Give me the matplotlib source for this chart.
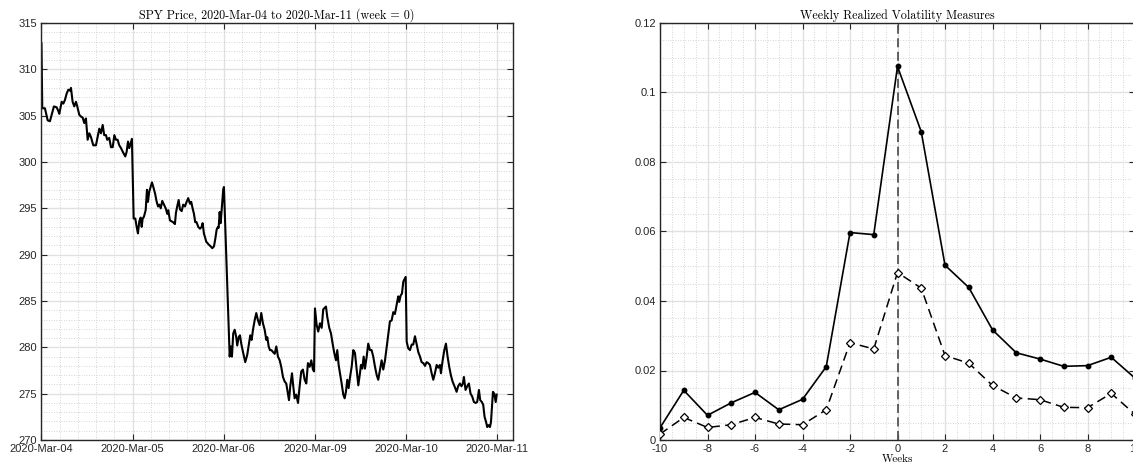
import numpy as np
import matplotlib
matplotlib.use("Agg")
import matplotlib.pyplot as plt
from matplotlib.ticker import MultipleLocator, FixedLocator, FuncFormatter

plt.rcParams['axes.unicode_minus'] = False
plt.rcParams['font.family'] = ['Liberation Sans', 'DejaVu Sans']

# ---------------- data: SPY intraday price (fraction of session, price) ----------------
day_labels = ["2020-Mar-04", "2020-Mar-05", "2020-Mar-06", "2020-Mar-09", "2020-Mar-10", "2020-Mar-11"]

mar04_frac = [0.0, 0.009, 0.038, 0.068, 0.093, 0.112, 0.137, 0.167, 0.185, 0.196, 0.222, 0.24, 0.258,
              0.277, 0.295, 0.313, 0.324, 0.342, 0.36, 0.379, 0.393, 0.415, 0.434, 0.452, 0.47, 0.488,
              0.507, 0.525, 0.543, 0.569, 0.598, 0.617, 0.635, 0.653, 0.672, 0.689, 0.708, 0.722, 0.744,
              0.763, 0.782, 0.8, 0.818, 0.836, 0.854, 0.873, 0.898, 0.92, 0.935, 0.95, 0.964, 0.979, 0.993]
mar04_price = [312.8, 305.8, 305.8, 304.5, 304.4, 305.1, 306.0, 305.9, 305.5, 305.2, 306.5, 306.3, 306.7,
               307.4, 307.8, 307.7, 308.0, 306.5, 306.0, 306.5, 306.0, 305.1, 304.9, 304.8, 304.2, 304.7,
               302.4, 303.1, 302.7, 301.8, 301.8, 302.7, 303.6, 303.1, 304.0, 302.9, 302.9, 302.4, 302.6,
               301.6, 301.6, 302.9, 302.4, 302.4, 301.8, 301.5, 301.0, 300.6, 301.1, 302.2, 301.5, 302.0, 302.5]

mar05_frac = [0.012, 0.03, 0.045, 0.059, 0.074, 0.089, 0.1, 0.111, 0.125, 0.144, 0.158, 0.169, 0.183,
              0.198, 0.213, 0.228, 0.247, 0.265, 0.28, 0.294, 0.309, 0.326, 0.345, 0.364, 0.381, 0.392,
              0.41, 0.429, 0.446, 0.465, 0.476, 0.49, 0.506, 0.52, 0.539, 0.556, 0.575, 0.593, 0.611,
              0.63, 0.644, 0.659, 0.674, 0.688, 0.703, 0.721, 0.74, 0.758, 0.769, 0.783, 0.809, 0.835,
              0.857, 0.875, 0.894, 0.908, 0.923, 0.937, 0.945, 0.956, 0.967, 0.981, 0.995, 1.003]
mar05_price = [293.9, 293.9, 293.0, 292.3, 293.6, 294.0, 293.0, 293.9, 294.1, 294.8, 297.0, 295.7, 296.8,
               297.3, 297.8, 297.3, 296.6, 295.7, 295.2, 295.4, 295.0, 295.8, 295.4, 295.0, 294.4, 294.8,
               293.7, 293.6, 293.5, 293.3, 294.5, 295.2, 295.9, 294.9, 294.7, 295.4, 295.2, 295.7, 296.1,
               295.5, 295.7, 295.0, 294.4, 293.5, 293.5, 293.0, 292.8, 293.0, 293.4, 292.3, 291.4, 291.1,
               290.9, 290.7, 290.9, 291.7, 292.7, 293.0, 292.9, 294.6, 293.4, 295.2, 297.0, 297.3]

mar06_frac = [0.066, 0.077, 0.091, 0.105, 0.121, 0.138, 0.149, 0.165, 0.179, 0.193, 0.212, 0.237, 0.259,
              0.278, 0.292, 0.307, 0.322, 0.34, 0.358, 0.377, 0.395, 0.413, 0.431, 0.45, 0.468, 0.479,
              0.494, 0.508, 0.524, 0.541, 0.56, 0.578, 0.596, 0.615, 0.632, 0.651, 0.67, 0.687, 0.706,
              0.717, 0.731, 0.75, 0.764, 0.779, 0.797, 0.816, 0.834, 0.852, 0.87, 0.889, 0.907, 0.925,
              0.944, 0.962, 0.98, 0.992]
mar06_price = [279.0, 280.1, 279.0, 281.5, 281.9, 281.1, 280.2, 281.1, 281.3, 280.4, 279.5, 278.4, 279.2,
               280.4, 281.3, 280.8, 281.9, 282.9, 283.7, 282.9, 282.4, 283.7, 282.6, 281.9, 280.8, 281.1,
               280.1, 279.7, 279.7, 279.5, 279.3, 280.1, 279.0, 278.6, 277.9, 276.8, 276.3, 276.1, 275.0,
               274.3, 275.8, 277.2, 275.8, 274.5, 274.9, 274.0, 275.8, 277.4, 277.6, 276.5, 276.1, 278.3,
               277.9, 278.6, 277.6, 277.4]

mar09_frac = [0.002, 0.021, 0.038, 0.057, 0.076, 0.093, 0.123, 0.137, 0.159, 0.178, 0.196, 0.214, 0.233,
              0.247, 0.262, 0.277, 0.295, 0.313, 0.328, 0.342, 0.357, 0.372, 0.386, 0.405, 0.423, 0.441,
              0.46, 0.478, 0.496, 0.507, 0.521, 0.537, 0.551, 0.57, 0.587, 0.606, 0.624, 0.642, 0.661,
              0.68, 0.697, 0.716, 0.734, 0.752, 0.771, 0.79, 0.807, 0.825, 0.844, 0.862, 0.88, 0.899,
              0.916, 0.927, 0.943, 0.957, 0.972, 0.987, 0.998]
mar09_price = [284.2, 282.4, 281.7, 282.6, 282.1, 284.1, 284.4, 283.3, 282.1, 281.5, 280.4, 279.4, 278.6,
               279.7, 278.1, 277.2, 276.1, 274.9, 274.5, 275.2, 276.5, 275.6, 276.7, 277.9, 279.7, 279.4,
               277.6, 275.9, 277.2, 278.1, 277.7, 279.0, 277.7, 279.0, 280.4, 279.7, 279.7, 279.0, 277.9,
               277.0, 276.5, 277.6, 278.6, 277.6, 278.6, 280.1, 281.5, 282.8, 282.9, 283.8, 283.6, 284.6,
               285.5, 284.9, 285.6, 285.8, 287.1, 287.4, 287.6]

mar10_frac = [0.009, 0.026, 0.045, 0.064, 0.081, 0.1, 0.119, 0.136, 0.155, 0.173, 0.191, 0.21, 0.228,
              0.246, 0.264, 0.283, 0.301, 0.319, 0.338, 0.356, 0.374, 0.385, 0.404, 0.422, 0.44, 0.458,
              0.476, 0.494, 0.513, 0.53, 0.557, 0.574, 0.593, 0.611, 0.626, 0.637, 0.655, 0.673, 0.692,
              0.71, 0.728, 0.747, 0.766, 0.783, 0.802, 0.816, 0.834, 0.849, 0.864, 0.879, 0.893, 0.908,
              0.923, 0.934, 0.945, 0.956, 0.97, 0.986, 0.997]
mar10_price = [280.6, 279.9, 279.7, 280.3, 280.3, 281.2, 280.3, 279.5, 279.0, 278.4, 278.3, 278.0, 278.4,
               278.3, 278.1, 277.2, 276.5, 277.2, 278.1, 277.8, 278.1, 277.2, 278.6, 279.7, 280.4, 279.0,
               277.9, 277.0, 276.3, 275.9, 275.2, 275.8, 276.1, 275.8, 276.1, 276.8, 275.4, 275.8, 276.1,
               275.0, 274.7, 274.1, 274.0, 274.1, 275.4, 274.3, 274.1, 273.8, 272.5, 272.0, 271.4, 271.6,
               271.4, 271.9, 273.6, 275.2, 275.0, 274.1, 274.9]

# ---------------- data: weekly realized volatility ----------------
weeks = list(range(-10, 11))
rv_solid = [0.0035, 0.0143, 0.0071, 0.0107, 0.0137, 0.0087, 0.0117, 0.0211, 0.0597, 0.0591,
            0.1075, 0.0887, 0.0503, 0.0439, 0.0317, 0.0251, 0.0233, 0.0212, 0.0214, 0.0238, 0.0178]
rv_dashed = [0.0017, 0.0065, 0.0036, 0.0044, 0.0065, 0.0046, 0.0044, 0.0087, 0.0280, 0.0262,
             0.0482, 0.0437, 0.0243, 0.0221, 0.0157, 0.0121, 0.0116, 0.0094, 0.0093, 0.0134, 0.0074]

# ---------------- build ----------------
day_fracs = [mar04_frac, mar05_frac, mar06_frac, mar09_frac, mar10_frac]
day_prices = [mar04_price, mar05_price, mar06_price, mar09_price, mar10_price]
t = np.concatenate([i + np.asarray(f) for i, f in enumerate(day_fracs)])
price = np.concatenate([np.asarray(p) for p in day_prices])

W, H = 1133, 462
fig = plt.figure(figsize=(W / 100, H / 100), dpi=100)

spine_col = '#262626'
tick_col = '#262626'
major_grid = dict(color='#e1e1e1', linewidth=1.0, linestyle='-')
minor_grid = dict(color='#c8c8c8', linewidth=0.6, linestyle=(0, (1, 2)))

def style(ax):
    for s in ax.spines.values():
        s.set_color(spine_col)
        s.set_linewidth(1.0)
    ax.tick_params(which='major', direction='in', length=4, width=0.8, color=spine_col,
                   top=True, right=True, labelsize=8, labelcolor=tick_col, pad=3)
    ax.tick_params(which='minor', length=0, top=True, right=True)
    ax.grid(True, which='major', **major_grid)
    ax.grid(True, which='minor', **minor_grid)
    ax.set_axisbelow(True)

title_font = dict(family='cmr10', size=8.7)

# Left panel
ax1 = fig.add_axes([41 / W, 1 - 440 / H, (513 - 41) / W, (440 - 23) / H])
style(ax1)
ax1.plot(t, price, color='black', linewidth=1.5)
ax1.set_xlim(-0.005, 5.176)
ax1.set_ylim(270, 315)
ax1.xaxis.set_major_locator(FixedLocator(range(len(day_labels))))
ax1.set_xticklabels(day_labels)
ax1.xaxis.set_minor_locator(MultipleLocator(0.2))
ax1.yaxis.set_major_locator(MultipleLocator(5))
ax1.yaxis.set_minor_locator(MultipleLocator(1))
ax1.set_title('SPY Price, 2020-Mar-04 to 2020-Mar-11 (week = 0)', fontdict=title_font, pad=3)

# Right panel
ax2 = fig.add_axes([660 / W, 1 - 440 / H, (1135 - 660) / W, (440 - 23) / H])
style(ax2)
ax2.axvline(0, color='#555555', linewidth=1.3, linestyle=(0, (5, 2.5)), zorder=2)
ax2.plot(weeks, rv_solid, color='black', linewidth=1.2, marker='o', markersize=3.2,
         markerfacecolor='black', zorder=3)
ax2.plot(weeks, rv_dashed, color='black', linewidth=1.1, linestyle=(0, (6, 3.5)), marker='D',
         markersize=4.2, markerfacecolor='white', markeredgewidth=0.9, zorder=3)
ax2.set_xlim(-10, 10)
ax2.set_ylim(0, 0.12)
ax2.xaxis.set_major_locator(MultipleLocator(2))
ax2.xaxis.set_minor_locator(MultipleLocator(0.5))
ax2.yaxis.set_major_locator(MultipleLocator(0.02))
ax2.yaxis.set_minor_locator(MultipleLocator(0.005))
ax2.yaxis.set_major_formatter(FuncFormatter(lambda v, p: ('%g' % round(v, 4))))
ax2.xaxis.set_major_formatter(FuncFormatter(lambda v, p: '%d' % round(v)))
ax2.set_title('Weekly Realized Volatility Measures', fontdict=title_font, pad=3)
ax2.set_xlabel('Weeks', fontdict=dict(family='cmr10', size=8), labelpad=0)

fig.savefig('out.png', dpi=100)
